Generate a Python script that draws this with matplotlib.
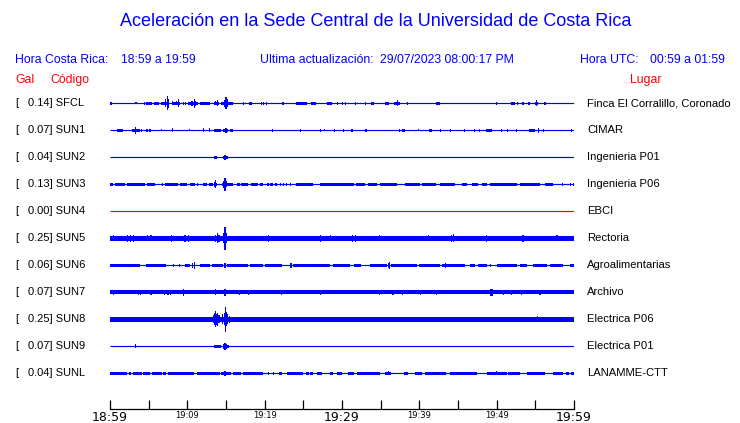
import matplotlib
matplotlib.use('Agg')
import matplotlib.pyplot as plt
import matplotlib.transforms as mtransforms
import numpy as np

# estaciones, valores en Gal y lugares
codes = ['SFCL', 'SUN1', 'SUN2', 'SUN3', 'SUN4', 'SUN5', 'SUN6', 'SUN7', 'SUN8', 'SUN9', 'SUNL']
gal = ['0.14', '0.07', '0.04', '0.13', '0.00', '0.25', '0.06', '0.07', '0.25', '0.07', '0.04']
places = ['Finca El Corralillo, Coronado', 'CIMAR', 'Ingenieria P01', 'Ingenieria P06', 'EBCI',
          'Rectoria', 'Agroalimentarias', 'Archivo', 'Electrica P06', 'Electrica P01', 'LANAMME-CTT']

# minutos desde 18:59
tick_min = [0, 5, 10, 15, 20, 25, 30, 35, 40, 45, 50, 55, 60]
tick_lab = ['18:59', '', '19:09', '', '19:19', '', '19:29', '', '19:39', '', '19:49', '', '19:59']

# semi-amplitud de los bloques de ruido (px)
block_half = [1.3, 1.3, 1.3, 1.4, 0.0, 2.4, 1.5, 2.0, 2.2, 1.4, 1.4]

# bloques de ruido (inicio, fin) en minutos
blocks_sfcl = [(4.66, 5.47), (5.73, 6.34), (6.6, 7.6), (8.0, 9.05), (10.1, 11.4), (11.64, 12.93),
               (13.45, 14.1), (14.35, 15.9), (17.97, 18.36), (22.2, 22.5), (24.1, 25.5), (25.95, 26.6),
               (28.0, 28.7), (33.8, 34.1), (35.6, 36.1), (36.7, 37.5), (42.2, 42.7), (51.9, 52.4),
               (54.1, 54.3), (54.9, 55.4)]
blocks_sun1 = [(0.87, 1.63), (2.9, 3.44), (3.53, 3.88), (4.66, 4.95), (13.45, 14.3), (14.65, 15.3),
               (31.2, 31.4), (33.0, 33.2), (37.8, 38.1), (41.3, 41.7), (48.6, 49.4), (54.2, 55.0)]
blocks_sun2 = [(13.45, 13.88), (14.65, 15.3)]
blocks_sun3 = [(0.0, 0.43), (0.65, 1.94), (2.16, 4.53), (4.75, 5.82), (6.69, 6.89), (7.11, 8.83),
               (9.05, 9.92), (10.35, 11.0), (11.2, 11.4), (12.07, 12.5), (12.84, 13.36), (13.45, 13.88),
               (14.44, 15.94), (16.4, 16.8), (17.0, 17.9), (18.2, 19.2), (19.4, 19.8), (20.3, 20.5),
               (20.7, 21.1), (21.3, 21.6), (24.1, 26.3), (27.2, 31.5), (31.8, 33.0), (33.3, 34.5),
               (34.9, 37.1), (38.2, 40.1), (40.4, 42.2), (42.7, 44.6), (45.5, 46.1), (46.8, 47.6),
               (48.1, 48.7), (49.1, 52.6), (53.0, 55.6), (56.3, 57.3), (58.4, 58.6)]
blocks_sun4 = []
blocks_sun5 = [(0.0, 60.0)]
blocks_sun6 = [(0.0, 3.9), (4.66, 7.3), (9.7, 10.4), (11.6, 12.9), (13.2, 14.65), (15.1, 17.9),
               (18.1, 19.8), (20.0, 22.2), (23.7, 28.4), (28.9, 31.0), (31.5, 32.5), (33.6, 35.8),
               (36.4, 39.7), (39.9, 42.7), (42.9, 45.9), (46.6, 47.2), (47.6, 48.7), (50.0, 52.6),
               (53.0, 53.9), (54.7, 56.5), (56.9, 58.6), (59.5, 60.0)]
blocks_sun7 = [(0.0, 60.0)]
blocks_sun8 = [(0.0, 60.0)]
blocks_sun9 = [(13.45, 14.3), (14.6, 15.4)]
blocks_sunl = [(0.0, 2.2), (2.4, 2.7), (3.0, 4.1), (4.3, 5.2), (5.4, 6.7), (6.9, 7.3), (7.5, 10.8),
               (11.2, 14.2), (14.4, 15.7), (15.9, 17.0), (17.2, 19.8), (21.8, 22.2), (22.9, 25.0),
               (25.3, 25.7), (25.9, 26.3), (26.8, 27.4), (28.5, 28.9), (29.3, 30.0), (30.8, 31.5),
               (31.9, 34.9), (35.6, 36.4), (38.0, 38.5), (39.4, 40.3), (40.7, 43.5), (44.0, 47.4),
               (48.7, 51.3), (51.5, 53.0), (53.9, 56.25), (57.3, 58.6), (59.0, 59.4), (59.6, 60.0)]

# picos (minuto, semi-amplitud px)
spikes_sfcl = [(0.13, 1.5), (3.36, 1.2), (4.44, 1.5), (7.2, 4), (7.41, 7), (7.55, 4.5), (8.1, 1.8),
               (8.6, 2.2), (8.83, 4), (9.48, 1.5), (9.74, 1.5), (10.6, 2.5), (10.9, 4.5), (11.1, 2.5),
               (13.7, 2), (13.9, 3), (14.8, 3.5), (15.0, 6), (15.15, 4), (17.24, 1.5), (19.6, 1.5),
               (19.9, 1.5), (20.2, 1.5), (29.45, 1.5), (30.1, 1.5), (30.4, 1.5), (31.8, 1.5),
               (33.0, 1.5), (37.2, 3), (38.5, 1.3), (50.0, 1.3), (52.7, 1.5), (53.4, 1.5), (55.1, 3),
               (56.25, 1.3)]
spikes_sun1 = [(3.27, 3.3), (4.1, 1.5), (5.17, 1.5), (6.68, 1.2), (8.06, 2), (10.26, 1.2), (12.07, 1.8),
               (12.84, 1.8), (15.0, 2.7), (15.65, 1.5), (15.8, 1.5), (21.0, 1.5), (24.6, 1.5), (27.2, 1.5),
               (27.7, 1.2), (29.0, 1.5), (30.2, 1.5), (37.4, 1.5), (39.9, 1.2), (42.7, 1.5), (44.0, 1.3),
               (45.8, 1.3), (47.1, 1.3), (47.8, 1.5), (50.65, 1.3), (51.4, 1.3), (52.6, 1.3), (55.4, 2.3),
               (56.0, 1.3), (59.7, 1.5)]
spikes_sun2 = [(14.87, 2.3)]
spikes_sun3 = [(13.5, 2.5), (13.67, 4.2), (14.7, 3.5), (14.87, 6.7), (15.05, 3), (22.0, 1.4), (22.4, 1.4),
               (22.8, 1.4), (23.3, 1.4), (59.5, 1.4), (59.9, 1.4)]
spikes_sun4 = []
spikes_sun5 = [(0.4, 2.9), (1.2, 2.8), (2.3, 3.2), (2.6, 3.6), (3.0, 3.2), (4.9, 2.9), (5.3, 2.9), (7.9, 3.4),
               (9.7, 3.2), (10.1, 3.2), (13.6, 3.6), (13.85, 5), (14.1, 3.6), (14.7, 5), (14.87, 11.5),
               (15.05, 5), (20.5, 3.4), (27.2, 3.4), (28.5, 2.9), (31.3, 3.2), (31.7, 3.2), (34.9, 2.9),
               (41.2, 2.9), (44.2, 3.2), (44.4, 4), (48.7, 3.2), (53.4, 3.2), (57.8, 2.9)]
spikes_sun6 = [(8.2, 1.5), (9.0, 1.5), (10.7, 2.2), (10.9, 3.3), (14.87, 2.7), (23.4, 2.3), (36.0, 2.2),
               (36.2, 3.3), (43.4, 2.7), (49.2, 1.5)]
spikes_sun7 = [(0.43, 2.7), (3.7, 2.5), (3.9, 2.3), (5.2, 2.5), (5.4, 2.3), (7.1, 2.5), (7.5, 2.5),
               (7.8, 2.3), (9.5, 3.3), (13.6, 3), (14.87, 3.3), (16.8, 2.5), (17.9, 2.7), (22.2, 2.5),
               (27.2, 2.5), (34.9, 2.7), (36.6, 2.5), (37.8, 2.3), (40.1, 2.5), (42.2, 2.5), (49.2, 3.3),
               (49.4, 3.3), (50.9, 2.7), (51.9, 2.5), (53.2, 2.5), (55.6, 2.5)]
spikes_sun8 = [(0.2, 2.6), (1.5, 2.8), (1.7, 2.8), (2.4, 2.6), (12.0, 2.5), (13.4, 4), (13.55, 6),
               (13.65, 8), (13.8, 5.5), (13.95, 6.5), (14.1, 4), (14.6, 5), (14.75, 6), (14.96, 12.5),
               (15.1, 7), (15.25, 5), (15.45, 3.5), (20.1, 2.5), (29.0, 2.5), (55.3, 2.9)]
spikes_sun9 = [(3.27, 2), (14.7, 2.3), (14.87, 3.3), (15.0, 2.3)]
spikes_sunl = [(14.87, 2.7), (20.5, 1.5), (21.2, 1.5), (36.0, 2), (50.0, 2)]

blocks = [blocks_sfcl, blocks_sun1, blocks_sun2, blocks_sun3, blocks_sun4, blocks_sun5,
          blocks_sun6, blocks_sun7, blocks_sun8, blocks_sun9, blocks_sunl]
spikes = [spikes_sfcl, spikes_sun1, spikes_sun2, spikes_sun3, spikes_sun4, spikes_sun5,
          spikes_sun6, spikes_sun7, spikes_sun8, spikes_sun9, spikes_sunl]

W, H = 740, 423
ROW_PX = 27.0          # separacion entre trazas en pixeles
Y0_PX = 103.3          # centro de la primera traza
AX_TOP, AX_BOT = 90, 409
BLUE = '#0000ff'
RED = '#ff0000'
SANS = ['Liberation Sans', 'DejaVu Sans']

fig = plt.figure(figsize=(W / 100, H / 100), dpi=100)
ax = fig.add_axes([110 / W, (H - AX_BOT) / H, 464 / W, (AX_BOT - AX_TOP) / H])
ax.set_xlim(0, 60)
ax.set_ylim((AX_BOT - Y0_PX) / ROW_PX, (AX_TOP - Y0_PX) / ROW_PX)

for i, code in enumerate(codes):
    col = RED if code == 'SUN4' else BLUE
    ax.hlines(i, 0, 60, color=col, lw=0.85)
    hb = block_half[i] / ROW_PX
    for t0, t1 in blocks[i]:
        ax.bar(t0, 2 * hb, width=t1 - t0, bottom=i - hb, align='edge', color=col, linewidth=0)
    for t, h in spikes[i]:
        hs = h / ROW_PX
        ax.bar(t, 2 * hs, width=0.14, bottom=i - hs, align='center', color=col, linewidth=0)

# eje de tiempo
for s in ['top', 'left', 'right']:
    ax.spines[s].set_visible(False)
ax.spines['bottom'].set_linewidth(0.9)
ax.set_yticks([])
ax.set_xticks(tick_min)
ax.set_xticklabels(tick_lab)
ax.tick_params(axis='x', direction='in', length=6.5, width=0.9, pad=1.5)
for lab, m in zip(ax.get_xticklabels(), tick_min):
    if m % 30 == 0:
        lab.set_fontsize(9)
    else:
        lab.set_fontsize(6)

# textos por estacion
tr = mtransforms.blended_transform_factory(fig.transFigure, ax.transData)
for i in range(len(codes)):
    ax.text(15 / W, i, '[', transform=tr, va='center', ha='left', fontsize=8, family=SANS)
    ax.text(28 / W, i, gal[i] + '] ' + codes[i], transform=tr, va='center', ha='left',
            fontsize=8, family=SANS)
    ax.text(587 / W, i, places[i], transform=tr, va='center', ha='left', fontsize=8.1, family=SANS)

# encabezados
fig.text(376 / W, 1 - 22 / H, 'Aceleración en la Sede Central de la Universidad de Costa Rica',
         ha='center', va='center', color=BLUE, fontsize=13, family=SANS)
hy = 1 - 60 / H
fs_h = 8.8
fig.text(15 / W, hy, 'Hora Costa Rica:', color=BLUE, fontsize=fs_h, va='center', family=SANS)
fig.text(121 / W, hy, '18:59 a 19:59', color=BLUE, fontsize=fs_h, va='center', family=SANS)
fig.text(260 / W, hy, 'Ultima actualización:', color=BLUE, fontsize=fs_h, va='center', family=SANS)
fig.text(380 / W, hy, '29/07/2023 08:00:17 PM', color=BLUE, fontsize=fs_h, va='center', family=SANS)
fig.text(580 / W, hy, 'Hora UTC:', color=BLUE, fontsize=fs_h, va='center', family=SANS)
fig.text(650 / W, hy, '00:59 a 01:59', color=BLUE, fontsize=fs_h, va='center', family=SANS)
gy = 1 - 80 / H
fig.text(15 / W, gy, 'Gal', color=RED, fontsize=fs_h, va='center', family=SANS)
fig.text(50 / W, gy, 'Código', color=RED, fontsize=fs_h, va='center', family=SANS)
fig.text(630 / W, gy, 'Lugar', color=RED, fontsize=fs_h, va='center', family=SANS)

fig.savefig('out.png', dpi=100)
